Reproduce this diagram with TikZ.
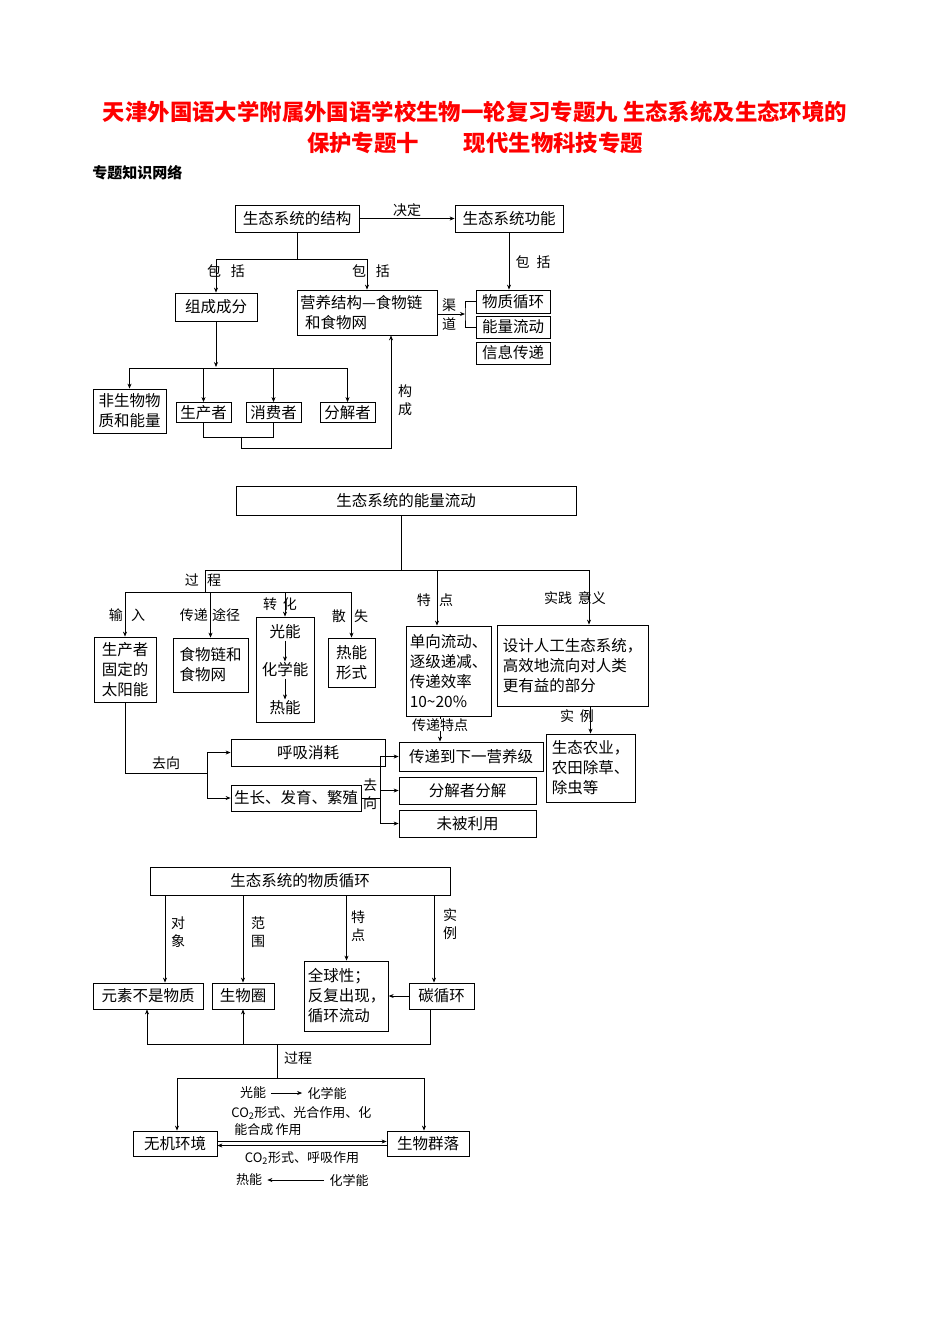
\documentclass[tikz,border=0pt]{standalone}
\usepackage{fontspec}
\setmainfont{Liberation Serif}
\newfontfamily\cjk{Noto Sans CJK SC}
\usetikzlibrary{arrows.meta,calc}
\begin{document}
\begin{tikzpicture}[x=1pt,y=-1pt,line width=0.8pt,
  box/.style={draw,inner sep=1pt,font=\cjk\fontsize{15.5}{20}\selectfont},
  lbl/.style={inner sep=0pt,font=\cjk\fontsize{14}{17}\selectfont},
  sml/.style={inner sep=0pt,font=\cjk\fontsize{13}{16}\selectfont},
  arr/.style={-{Stealth[length=5pt,width=4pt]}}]
\useasboundingbox (0,0) rectangle (950,1344);
\node[inner sep=0pt,text=red,font=\cjk\bfseries\fontsize{22.4}{26}\selectfont] (t1) at (475,112) {天津外国语大学附属外国语学校生物一轮复习专题九\ 生态系统及生态环境的};
\node[inner sep=0pt,text=red,font=\cjk\bfseries\fontsize{22.4}{26}\selectfont] (t2) at (475,143) {保护专题十\hspace{2em}现代生物科技专题};
\node[anchor=west,inner sep=0pt,font=\cjk\bfseries\fontsize{15}{18}\selectfont] (sub) at (92,173) {专题知识网络};
% ---------- section 1
\node[box,minimum width=124,minimum height=27] (A) at (297,218.5) {生态系统的结构};
\node[box,minimum width=108,minimum height=27] (B) at (509,218.5) {生态系统功能};
\draw[arr] (A.east) -- (B.west) node[midway,above=1pt,lbl] {决定};
\node[box,minimum width=82,minimum height=28] (C) at (216,307) {组成成分};
\node[box,minimum width=140,minimum height=45,align=left,text width=134] (D) at (367,312.5) {营养结构—食物链\\\ 和食物网};
\node[box,minimum width=74,minimum height=23] (E) at (513,301.5) {物质循环};
\node[box,minimum width=74,minimum height=22] (F) at (513,327) {能量流动};
\node[box,minimum width=74,minimum height=22] (G) at (513,353) {信息传递};
\coordinate (j1) at (297,259);
\draw (A.south) -- (j1);
\draw[arr] (j1) -| (C.north);
\draw[arr] (j1) -| (D.north);
\node[lbl] (l1) at (226,271) {包\hspace{0.7em}括};
\node[lbl] (l2) at (371,271) {包\hspace{0.7em}括};
\draw[arr] (B.south) -- (B.south |- E.north);
\node[lbl] (l3) at (533,262) {包\hspace{0.5em}括};
\coordinate (ch) at (465,314);
\draw[arr] (D.east |- ch) -- (ch);
\draw (E.west) -| (ch) |- (F.west);
\node[lbl,align=center] (l4) at (449,315) {渠\\[2pt]道};
\node[box,minimum width=73,minimum height=44,align=left] (H) at (129.5,411) {非生物物\\质和能量};
\node[box,minimum width=55,minimum height=20] (I) at (203.5,412.5) {生产者};
\node[box,minimum width=55,minimum height=20] (J) at (273.5,412.5) {消费者};
\node[box,minimum width=55,minimum height=20] (K) at (347.5,412.5) {分解者};
\coordinate (j2) at (216,368);
\draw[arr] (C.south) -- ($(j2)+(0,-1)$);
\draw[arr] (j2) -| (H.north);
\draw[arr] (j2) -| (I.north);
\draw[arr] (j2) -| (J.north);
\draw[arr] (j2) -| (K.north);
\draw (I.south) -- ++(0,14) -| (J.south);
\coordinate (j3) at (241,436.5);
\draw[arr] (j3) -- (241,448) -| ($(D.south)+(24,0)$);
\node[lbl,align=center] (l5) at (405,400) {构\\[1pt]成};
% ---------- section 2
\node[box,minimum width=340,minimum height=29] (L) at (406,500.5) {生态系统的能量流动};
\coordinate (k1) at (401,570);
\draw (L.south -| k1) -- (k1);
\draw (205,570) -- (589,570);
\coordinate (k2) at (205,592);
\draw (205,570) -- (k2);
\node[box,minimum width=62,minimum height=65,align=left] (M) at (125,669.5) {生产者\\固定的\\太阳能};
\node[box,minimum width=75,minimum height=54,align=left] (N) at (210.5,665) {食物链和\\食物网};
\node[box,minimum width=58,minimum height=105] (O) at (285,669.5) {};
\node[box,draw=none] (O1) at (285,632) {光能};
\node[box,draw=none] (O2) at (285,670) {化学能};
\node[box,draw=none] (O3) at (285,708) {热能};
\draw[arr,line width=0.6pt] (O1) -- (O2);
\draw[arr,line width=0.6pt] (O2) -- (O3);
\node[box,minimum width=47,minimum height=49,align=center] (P) at (351.5,662.5) {热能\\形式};
\draw[arr] (k2) -| (M.north);
\draw[arr] (k2) -| (P.north);
\draw[arr] (k2 -| N.north) -- (N.north);
\draw[arr] (k2 -| O.north) -- (O.north);
\node[lbl] (m1) at (203,580) {过\hspace{0.6em}程};
\node[lbl] (m2) at (127,615) {输\hspace{0.6em}入};
\node[lbl] (m3) at (210,615) {传递\hspace{0.3em}途径};
\node[lbl] (m4) at (280,604) {转\hspace{0.4em}化};
\node[lbl] (m5) at (350,616) {散\hspace{0.6em}失};
\node[box,minimum width=85,minimum height=90,align=left,inner sep=3pt] (Q) at (448.5,671) {单向流动、\\逐级递减、\\传递效率\\10\textasciitilde20\%};
\node[box,minimum width=151,minimum height=81,align=left,inner sep=3pt] (R) at (572.5,665.5) {设计人工生态系统，\\高效地流向对人类\\更有益的部分};
\draw[arr] (437,570) -- (Q.north -| 437,0);
\draw[arr] (589,570) -- (R.north -| 589,0);
\node[lbl] (m6) at (435,600) {特\hspace{0.6em}点};
\node[lbl] (m7) at (575,598) {实践\hspace{0.4em}意义};
\node[box,minimum width=89,minimum height=68,align=left,inner sep=3pt] (S) at (590.5,768) {生态农业，\\农田除草、\\除虫等};
\draw[arr] (R.south -| S.north) -- (S.north);
\node[lbl] (m8) at (577,716) {实\hspace{0.4em}例};
\node[box,minimum width=144,minimum height=29] (T) at (471,756.5) {传递到下一营养级};
\node[box,minimum width=137,minimum height=27] (U) at (467.5,790.5) {分解者分解};
\node[box,minimum width=137,minimum height=27] (V) at (467.5,823.5) {未被利用};
\draw[arr] (Q.south -| 440,0) -- (T.north -| 440,0);
\node[lbl,fill=white,inner xsep=1pt] (m9) at (440,725) {传递特点};
\node[box,minimum width=154,minimum height=27] (W) at (308,752.5) {呼吸消耗};
\node[box,minimum width=130,minimum height=26] (X) at (296,798) {生长、发育、繁殖};
\coordinate (k3) at (207,773);
\draw (M.south) |- (k3);
\draw[arr] (k3) |- (W.west);
\draw[arr] (k3) |- (X.west);
\node[lbl] (m10) at (166,763) {去向};
\coordinate (k4) at (380,791);
\draw (X.east) -- (X.east -| k4);
\draw[arr] (k4) |- (T.west);
\draw[arr] (k4) |- (U.west);
\draw[arr] (k4) |- (V.west);
\node[lbl,align=center] (m11) at (370,794) {去\\[1pt]向};
% ---------- section 3
\node[box,minimum width=300,minimum height=28] (Y) at (300,881) {生态系统的物质循环};
\node[box,minimum width=110,minimum height=26] (Z) at (148,996) {元素不是物质};
\node[box,minimum width=62,minimum height=26] (AA) at (243,996) {生物圈};
\node[box,minimum width=83,minimum height=70,align=left,inner sep=3pt] (AB) at (346.5,996) {全球性；\\反复出现，\\循环流动};
\node[box,minimum width=65,minimum height=26] (AC) at (441.5,996) {碳循环};
\draw[arr] (Y.south -| 165,0) -- (Z.north -| 165,0);
\draw[arr] (Y.south -| AA.north) -- (AA.north);
\draw[arr] (Y.south -| AB.north) -- (AB.north);
\draw[arr] (Y.south -| 434,0) -- (AC.north -| 434,0);
\node[lbl,align=center] (n1) at (178,932) {对\\[1pt]象};
\node[lbl,align=center] (n2) at (258,932) {范\\[1pt]围};
\node[lbl,align=center] (n3) at (358,926) {特\\[1pt]点};
\node[lbl,align=center] (n4) at (450,924) {实\\[1pt]例};
\draw[arr] (AC.west) -- (AB.east |- AC.west);
\coordinate (p1) at (277,1044);
\draw (AC.south -| 430,0) -- (430,1044) -- (147,1044);
\draw[arr] (147,1044) -- (Z.south -| 147,0);
\draw[arr] (AA.south |- p1) -- (AA.south);
\coordinate (p2) at (277,1078);
\draw (p1) -- (p2);
\node[lbl] (n5) at (298,1058) {过程};
\node[box,minimum width=84,minimum height=25] (AD) at (175,1143.5) {无机环境};
\node[box,minimum width=82,minimum height=25] (AE) at (428,1143.5) {生物群落};
\draw (177,1078) -- (424,1078);
\draw[arr] (177,1078) -- (AD.north -| 177,0);
\draw[arr] (424,1078) -- (AE.north -| 424,0);
\draw[arr,line width=0.6pt] ($(AD.east)+(0,-2)$) -- ($(AE.west)+(0,-2)$);
\draw[arr,line width=0.6pt] ($(AE.west)+(0,2)$) -- ($(AD.east)+(0,2)$);
\node[sml] (q1) at (253,1093) {光能};
\node[sml] (q2) at (327,1093) {化学能};
\draw[arr,line width=0.6pt] ($(q1.east)+(5,0)$) -- ($(q2.west)+(-5,0)$);
\node[sml,anchor=west] (q3) at (231,1113) {CO\textsubscript{2}形式、光合作用、化};
\node[sml,anchor=west] (q4) at (234,1130) {能合成\,作用};
\node[sml] (q5) at (302,1158) {CO\textsubscript{2}形式、呼吸作用};
\node[sml] (q6) at (249,1180) {热能};
\node[sml] (q7) at (349,1180) {化学能};
\draw[arr,line width=0.6pt] ($(q7.west)+(-5,0)$) -- ($(q6.east)+(5,0)$);
\end{tikzpicture}
\end{document}
